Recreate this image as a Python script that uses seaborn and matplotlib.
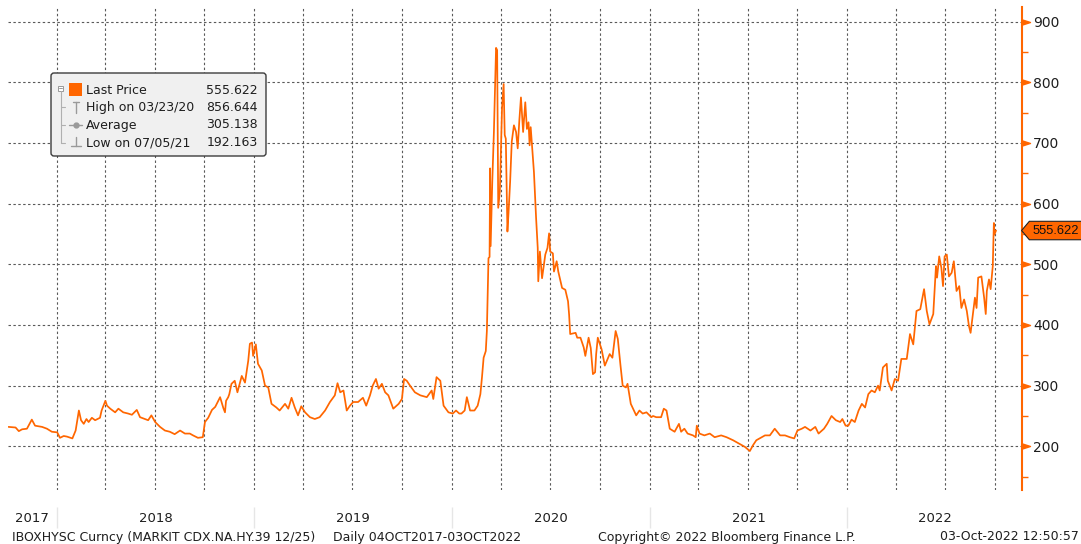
import numpy as np
import pandas as pd
import matplotlib
matplotlib.use("Agg")
import matplotlib.pyplot as plt
import matplotlib.transforms as mtransforms
from matplotlib.patches import FancyBboxPatch, Rectangle
from matplotlib.path import Path
import seaborn as sns

# ---------------- data ----------------
dates = [
    "2017-10-04", "2017-10-17", "2017-10-23", "2017-10-29", "2017-11-07", "2017-11-16", "2017-11-22",
    "2017-12-05", "2017-12-14", "2017-12-23",
    "2018-01-02", "2018-01-07", "2018-01-14", "2018-01-20", "2018-01-30", "2018-02-05", "2018-02-11",
    "2018-02-15", "2018-02-20", "2018-02-25", "2018-03-01", "2018-03-07", "2018-03-13", "2018-03-22",
    "2018-03-25", "2018-04-01", "2018-04-04", "2018-04-10", "2018-04-19", "2018-04-25", "2018-05-04",
    "2018-05-13", "2018-05-20", "2018-05-29", "2018-06-04", "2018-06-13", "2018-06-19", "2018-06-25",
    "2018-07-02", "2018-07-11", "2018-07-20", "2018-07-29", "2018-08-07", "2018-08-17", "2018-08-26",
    "2018-09-04", "2018-09-10", "2018-09-19", "2018-09-28", "2018-10-02", "2018-10-08", "2018-10-15",
    "2018-10-21", "2018-10-30", "2018-11-05", "2018-11-08", "2018-11-10", "2018-11-14", "2018-11-16",
    "2018-11-20", "2018-11-26", "2018-12-01", "2018-12-09", "2018-12-15", "2018-12-21", "2018-12-24",
    "2018-12-28", "2018-12-30",
    "2019-01-04", "2019-01-08", "2019-01-15", "2019-01-21", "2019-01-27", "2019-02-02", "2019-02-11",
    "2019-02-17", "2019-02-27", "2019-03-05", "2019-03-11", "2019-03-17", "2019-03-23", "2019-03-29",
    "2019-04-05", "2019-04-14", "2019-04-23", "2019-05-02", "2019-05-12", "2019-05-21", "2019-05-30",
    "2019-06-04", "2019-06-09", "2019-06-15", "2019-06-21", "2019-06-27", "2019-07-03", "2019-07-12",
    "2019-07-21", "2019-07-27", "2019-08-03", "2019-08-08", "2019-08-14", "2019-08-19", "2019-08-25",
    "2019-08-31", "2019-09-06", "2019-09-15", "2019-09-25", "2019-10-01", "2019-10-05", "2019-10-10",
    "2019-10-16", "2019-10-25", "2019-11-04", "2019-11-16", "2019-11-25", "2019-11-28", "2019-12-04",
    "2019-12-11", "2019-12-17", "2019-12-26",
    "2020-01-03", "2020-01-09", "2020-01-15", "2020-01-19", "2020-01-25", "2020-01-29", "2020-02-04",
    "2020-02-12", "2020-02-18", "2020-02-23", "2020-02-26", "2020-02-29", "2020-03-04", "2020-03-06",
    "2020-03-09", "2020-03-11", "2020-03-12", "2020-03-13", "2020-03-16", "2020-03-19", "2020-03-23",
    "2020-03-25", "2020-03-27", "2020-03-30", "2020-04-03", "2020-04-06", "2020-04-08", "2020-04-10",
    "2020-04-13", "2020-04-15", "2020-04-18", "2020-04-21", "2020-04-25", "2020-04-29", "2020-05-02",
    "2020-05-05", "2020-05-08", "2020-05-12", "2020-05-16", "2020-05-19", "2020-05-22", "2020-05-24",
    "2020-05-26", "2020-06-01", "2020-06-05", "2020-06-08", "2020-06-09", "2020-06-12", "2020-06-16",
    "2020-06-22", "2020-06-26", "2020-06-29", "2020-07-01", "2020-07-06", "2020-07-08", "2020-07-13",
    "2020-07-16", "2020-07-23", "2020-07-29", "2020-08-03", "2020-08-05", "2020-08-07", "2020-08-17",
    "2020-08-20", "2020-08-26", "2020-09-01", "2020-09-04", "2020-09-10", "2020-09-14", "2020-09-18",
    "2020-09-22", "2020-09-24", "2020-09-27", "2020-10-04", "2020-10-10", "2020-10-19", "2020-10-24",
    "2020-10-30", "2020-11-03", "2020-11-08", "2020-11-12", "2020-11-18", "2020-11-21", "2020-11-27",
    "2020-12-07", "2020-12-13", "2020-12-19", "2020-12-26",
    "2021-01-04", "2021-01-07", "2021-01-13", "2021-01-22", "2021-01-27", "2021-02-01", "2021-02-07",
    "2021-02-16", "2021-02-24", "2021-02-28", "2021-03-06", "2021-03-12", "2021-03-22", "2021-03-27",
    "2021-03-29", "2021-04-03", "2021-04-12", "2021-04-22", "2021-05-01", "2021-05-13", "2021-05-23",
    "2021-06-04", "2021-06-16", "2021-06-26", "2021-07-05", "2021-07-11", "2021-07-17", "2021-07-27",
    "2021-08-02", "2021-08-11", "2021-08-20", "2021-08-30", "2021-09-08", "2021-09-17", "2021-09-25",
    "2021-10-01", "2021-10-09", "2021-10-15", "2021-10-25", "2021-11-03", "2021-11-09", "2021-11-19",
    "2021-11-25", "2021-12-03", "2021-12-11", "2021-12-19", "2021-12-23", "2021-12-29",
    "2022-01-03", "2022-01-09", "2022-01-15", "2022-01-22", "2022-01-28", "2022-02-03", "2022-02-09",
    "2022-02-15", "2022-02-21", "2022-02-27", "2022-03-02", "2022-03-08", "2022-03-15", "2022-03-17",
    "2022-03-24", "2022-03-30", "2022-04-05", "2022-04-11", "2022-04-21", "2022-04-27", "2022-05-03",
    "2022-05-09", "2022-05-16", "2022-05-23", "2022-05-28", "2022-06-02", "2022-06-09", "2022-06-14",
    "2022-06-16", "2022-06-20", "2022-06-24", "2022-06-27", "2022-06-30", "2022-07-04", "2022-07-08",
    "2022-07-13", "2022-07-17", "2022-07-22", "2022-07-27", "2022-07-31", "2022-08-05", "2022-08-10",
    "2022-08-14", "2022-08-17", "2022-08-22", "2022-08-25", "2022-08-28", "2022-08-31", "2022-09-06",
    "2022-09-11", "2022-09-14", "2022-09-16", "2022-09-20", "2022-09-23", "2022-09-27", "2022-09-29",
    "2022-09-30", "2022-10-03",
]

values = [
    232, 231, 225, 228, 229, 244, 234,
    232, 229, 224,
    223, 214, 217, 216, 213, 226, 259,
    243, 237, 245, 240, 247, 243, 247,
    259, 275, 267, 262, 256, 262, 256,
    254, 252, 260, 248, 245, 243, 251,
    240, 232, 226, 224, 220, 226, 221,
    221, 218, 214, 215, 240, 247, 260,
    265, 281, 263, 256, 275, 281, 286,
    303, 308, 289, 316, 305, 341, 369,
    371, 349,
    368, 336, 325, 300, 297, 270, 264,
    259, 270, 262, 280, 264, 251, 266,
    256, 248, 245, 248, 259, 273, 284,
    304, 289, 292, 259, 267, 273, 273,
    280, 267, 284, 300, 311, 295, 303,
    289, 284, 262, 270, 278, 311, 308,
    300, 289, 284, 281, 292, 278, 314,
    308, 267, 256,
    254, 259, 254, 254, 259, 281, 259,
    259, 267, 286, 314, 346, 357, 390,
    510, 512, 658, 530, 636, 718, 856.644,
    853, 593, 620, 757, 797, 713, 707,
    554, 584, 636, 702, 729, 718, 691,
    737, 775, 718, 767, 723, 734, 696,
    726, 652, 576, 527, 472, 521, 477,
    516, 527, 551, 521, 518, 488, 505,
    488, 461, 458, 439, 417, 385, 387,
    379, 379, 363, 349, 379, 362, 319,
    322, 352, 379, 360, 333, 352, 346,
    390, 377, 333, 300, 297, 303, 270,
    251, 259, 254, 256,
    248, 250, 248, 248, 262, 259, 229,
    224, 237, 224, 229, 221, 218, 215,
    234, 221, 218, 221, 215, 218, 215,
    210, 204, 199, 192.163, 202, 210, 215,
    218, 218, 229, 218, 218, 215, 213,
    226, 229, 232, 226, 232, 221, 229,
    237, 250, 243, 240, 245, 234,
    234, 244, 240, 259, 270, 264, 286,
    292, 289, 300, 292, 330, 336, 308,
    292, 311, 308, 344, 344, 385, 368,
    423, 426, 459, 423, 401, 418, 497,
    478, 513, 494, 464, 513, 516, 480,
    486, 505, 456, 464, 428, 442, 423,
    398, 387, 423, 445, 428, 478, 480,
    445, 418, 456, 475, 459, 497, 568,
    549, 555.622,
]

y_ticks = [200, 300, 400, 500, 600, 700, 800, 900]
y_minor_ticks = [150, 250, 350, 450, 550, 650, 750, 850]
year_labels = ["2017", "2018", "2019", "2020", "2021", "2022"]
legend_labels = ["Last Price", "High on 03/23/20", "Average", "Low on 07/05/21"]
legend_values = ["555.622", "856.644", "305.138", "192.163"]
last_value = 555.622
footer_series = "IBOXHYSC Curncy (MARKIT CDX.NA.HY.39 12/25)"
footer_range = "Daily 04OCT2017-03OCT2022"
footer_copy = "Copyright\u00a9 2022 Bloomberg Finance L.P."
footer_time = "03-Oct-2022 12:50:57"

# ---------------- style ----------------
sns.set_theme(style="white")
plt.rcParams["font.family"] = ["DejaVu Sans"]

ORANGE = "#ff6600"
TEXT = "#1e1e1e"
GRID = "#5a5a5a"

df = pd.DataFrame({"date": pd.to_datetime(dates), "value": values})

W, H = 1081, 544
fig = plt.figure(figsize=(W / 100, H / 100), dpi=100)
fig.patch.set_facecolor("white")

ax = fig.add_axes([8 / W, 1 - 490 / H, (1022 - 8) / W, (490 - 7) / H])
ax.set_facecolor("white")

sns.lineplot(data=df, x="date", y="value", ax=ax, color=ORANGE, lw=1.25, zorder=3)

x0, x1 = pd.Timestamp("2017-10-03"), pd.Timestamp("2022-11-20")
ax.set_xlim(x0, x1)
ax.set_ylim(128, 924)
ax.set_xlabel("")
ax.set_ylabel("")

# quarterly vertical grid
quarters = pd.date_range("2018-01-01", "2022-10-01", freq="QS")
ax.set_xticks(quarters)
ax.set_xticklabels([""] * len(quarters))
# year labels centred in each visible year span
year_starts = [pd.Timestamp(f"{y}-01-01") for y in year_labels]
centers = []
for y in year_labels:
    a = max(pd.Timestamp(f"{y}-01-01"), x0)
    b = min(pd.Timestamp(f"{int(y) + 1}-01-01"), x1)
    centers.append(a + (b - a) / 2)
ax.set_xticks(centers, minor=True)
ax.set_xticklabels(year_labels, minor=True)
ax.tick_params(axis="x", which="both", length=0)
ax.tick_params(axis="x", which="minor", pad=16, labelsize=9.5, labelcolor=TEXT)

# faint separators in the year-label band
ax.vlines(year_starts[1:], -0.036, -0.079, transform=ax.get_xaxis_transform(),
          colors="#e6e6e6", lw=1, clip_on=False)

# right value axis
ax.yaxis.tick_right()
ax.set_yticks(y_ticks)
ax.set_yticks(y_minor_ticks, minor=True)
ax.tick_params(axis="y", which="major", length=0, pad=8, labelsize=10, labelcolor=TEXT,
               right=True, left=False)
ax.tick_params(axis="y", which="minor", length=4, width=1, color=ORANGE, direction="out",
               right=True, left=False)

ax.grid(True, which="major", axis="both", color=GRID, lw=0.8, linestyle=(0, (2.2, 2.2)))
ax.set_axisbelow(True)

for s in ["left", "top", "bottom"]:
    ax.spines[s].set_visible(False)
ax.spines["right"].set_color(ORANGE)
ax.spines["right"].set_linewidth(1.5)

# triangular major ticks
tri = Path([(0, -0.32), (0, 0.32), (1, 0), (0, -0.32)],
           [Path.MOVETO, Path.LINETO, Path.LINETO, Path.CLOSEPOLY])
ax.plot(np.ones(len(y_ticks)), y_ticks, transform=ax.get_yaxis_transform(), ls="none",
        marker=tri, ms=11.5, color=ORANGE, mec=ORANGE, clip_on=False, zorder=5)


# last price tag
def tag_box(x0_, y0_, w_, h_, mutation_size):
    pad = 0.25 * mutation_size
    tip = 0.6 * mutation_size
    xa, ya = x0_ - pad, y0_ - pad
    xb, yb = x0_ + w_ + pad + 20, y0_ + h_ + pad
    return Path([(xa - tip, (ya + yb) / 2), (xa, ya), (xb, ya), (xb, yb), (xa, yb),
                 (xa - tip, (ya + yb) / 2)],
                [Path.MOVETO, Path.LINETO, Path.LINETO, Path.LINETO, Path.LINETO,
                 Path.CLOSEPOLY])


tag_tr = mtransforms.offset_copy(ax.get_yaxis_transform(), fig=fig, x=7.6, y=0, units="points")
ax.text(1.0, last_value, f"{last_value:.3f}", transform=tag_tr, ha="left", va="center",
        fontsize=9.3, family=["Liberation Sans", "DejaVu Sans"], color="#111111",
        clip_on=False, zorder=6,
        bbox=dict(boxstyle=tag_box, fc=ORANGE, ec="#222222", lw=0.8))

# ---------------- legend box ----------------
lax = fig.add_axes([50 / W, 1 - 157 / H, 217 / W, 85 / H])
lax.set_xlim(0, 217)
lax.set_ylim(85, 0)
lax.axis("off")
lax.add_patch(FancyBboxPatch((1, 1), 215, 83, boxstyle="round,pad=0,rounding_size=3",
                             fc="#f0f0f0", ec="#3c3c3c", lw=1.0))
rows = [18, 35.3, 53, 70.7]
ICON = "#9a9a9a"
# tree
lax.add_patch(Rectangle((8.3, 13.5), 5, 5, fc="white", ec="#8a8a8a", lw=0.6))
lax.plot([9.3, 12.3], [16, 16], color="#8a8a8a", lw=0.6)
lax.plot([10.8, 10.8], [18.7, rows[3]], color="#b0b0b0", lw=0.8)
for r in rows[1:]:
    lax.plot([10.8, 14.5], [r, r], color="#b0b0b0", lw=0.8)
# icons
lax.add_patch(Rectangle((19, 10.5), 13, 13, fc=ORANGE, ec="none"))
lax.plot([26, 26], [rows[1] - 5.5, rows[1] + 5.5], color=ICON, lw=1)
lax.plot([23, 29], [rows[1] - 5.5, rows[1] - 5.5], color=ICON, lw=1)
lax.plot([19, 32], [rows[2], rows[2]], color=ICON, lw=1)
lax.plot([26], [rows[2]], marker="o", ms=3.5, color=ICON)
lax.plot([26, 26], [rows[3] - 6, rows[3] + 3.5], color=ICON, lw=1)
lax.plot([21, 31], [rows[3] + 3.5, rows[3] + 3.5], color=ICON, lw=1)
for r, lab, val in zip(rows, legend_labels, legend_values):
    lax.text(36, r, lab, ha="left", va="center", fontsize=9, color=TEXT)
    lax.text(208, r, val, ha="right", va="center", fontsize=9, color=TEXT)

# ---------------- footer ----------------
fy = 1 - 537 / H
fig.text(12 / W, fy, footer_series, ha="left", va="center", fontsize=9, color=TEXT)
fig.text(333 / W, fy, footer_range, ha="left", va="center", fontsize=9, color=TEXT)
fig.text(598 / W, fy, footer_copy, ha="left", va="center", fontsize=9, color=TEXT)
fig.text(1079 / W, fy, footer_time, ha="right", va="center", fontsize=9, color=TEXT)

fig.savefig("out.png", dpi=100, facecolor="white")
